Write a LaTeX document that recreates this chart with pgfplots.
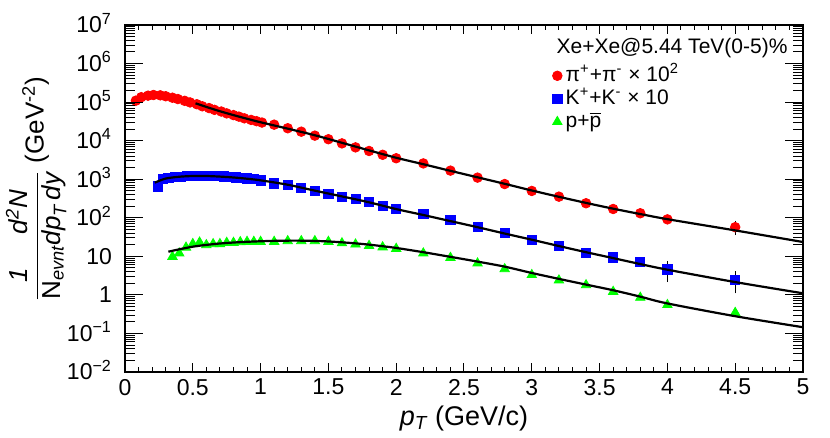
\documentclass[border=0pt]{standalone}
\usepackage{amsmath}
\usepackage{pgfplots}
\pgfplotsset{compat=1.18}
\usepackage{pgfplotstable}
\usepackage{fontspec}
\setmainfont{Liberation Sans}

\definecolor{rootred}{RGB}{255,0,0}
\definecolor{rootblue}{RGB}{0,0,255}
\definecolor{rootgreen}{RGB}{0,255,0}

\pgfplotstableread{
x y e
0.08 1.09e5 0
0.12 1.34e5 0
0.17 1.47e5 0
0.21 1.53e5 0
0.26 1.50e5 0
0.30 1.42e5 0
0.35 1.30e5 0
0.39 1.20e5 0
0.44 1.08e5 0
0.48 9.8e4 0
0.53 8.8e4 0
0.57 7.8e4 0
0.62 7.0e4 0
0.66 6.3e4 0
0.71 5.7e4 0
0.75 5.1e4 0
0.80 4.6e4 0
0.84 4.2e4 0
0.88 3.8e4 0
0.93 3.45e4 0
0.97 3.2e4 0
1.01 2.95e4 0
1.1 2.6e4 0
1.2 2.1e4 0
1.3 1.71e4 0
1.4 1.35e4 0
1.5 1.09e4 0
1.6 8.5e3 0
1.7 6.7e3 0
1.8 5.4e3 0
1.9 4.3e3 0
2.0 3.5e3 0
2.2 2.57e3 0
2.4 1.67e3 0
2.6 1.1e3 0
2.8 750 0
3.0 496 0
3.2 353 0
3.4 238 0
3.6 169 0
3.8 131 0
4.0 91 0
4.5 57 17
}\pion

\pgfplotstableread{
x y e
0.24 650 0
0.28 1000 0
0.32 1080 0
0.37 1130 0
0.41 1170 0
0.46 1200 0
0.50 1220 0
0.55 1230 0
0.59 1230 0
0.64 1220 0
0.68 1200 0
0.73 1180 0
0.77 1150 0
0.82 1120 0
0.86 1090 0
0.90 1050 0
0.95 1030 0
1.00 930 0
1.1 783 0
1.2 710 0
1.3 604 0
1.4 496 0
1.5 414 0
1.6 353 0
1.7 308 0
1.8 252 0
1.9 206 0
2.0 166 0
2.2 126 0
2.4 88 0
2.6 57 0
2.8 40 0
3.0 26.5 0
3.2 18.5 0
3.4 12.4 0
3.6 9.4 0
3.8 7.3 0
4.0 4.6 2.2
4.5 2.43 1.2
}\kaon

\pgfplotstableread{
x y
0.35 9.8
0.40 12.0
0.45 17.0
0.50 21.0
0.55 23.0
0.60 19.7
0.65 20.9
0.70 21.0
0.75 22.6
0.80 22.6
0.85 23.5
0.90 24.0
0.95 24.0
1.00 24.0
1.1 24.0
1.2 25.0
1.3 25.0
1.4 25.0
1.5 24.0
1.6 22.0
1.7 20.5
1.8 18.8
1.9 17.3
2.0 15.8
2.2 12.0
2.4 9.2
2.6 6.6
2.8 4.7
3.0 3.3
3.2 2.4
3.4 1.8
3.6 1.21
3.8 0.85
4.0 0.55
4.5 0.345
}\proton

\pgfplotstableread{
x y
0.52 9.3e4
0.6 7.5e4
0.7 5.8e4
0.8 4.6e4
0.9 3.7e4
1.0 3.0e4
1.2 2.05e4
1.4 1.38e4
1.6 8.8e3
1.8 5.6e3
2.0 3.6e3
2.2 2.45e3
2.4 1.65e3
2.6 1.12e3
2.8 760
3.0 510
3.2 350
3.4 243
3.6 172
3.8 125
4.0 92
4.5 47
5.0 23.5
}\pionfit

\pgfplotstableread{
x y
0.22 815
0.3 1040
0.4 1160
0.5 1210
0.6 1210
0.7 1170
0.8 1110
0.9 1030
1.0 935
1.2 720
1.4 505
1.6 358
1.8 252
2.0 168
2.2 118
2.4 82
2.6 57
2.8 39
3.0 27
3.2 18.5
3.4 12.8
3.6 9
3.8 6.3
4.0 4.5
4.5 2.15
5.0 1.1
}\kaonfit

\pgfplotstableread{
x y
0.32 13.2
0.4 15.2
0.5 17.8
0.6 19.8
0.7 21.5
0.8 22.8
0.9 23.8
1.0 24.6
1.1 25.2
1.2 25.5
1.3 25.5
1.4 25.1
1.5 24.3
1.6 23.1
1.7 21.7
1.8 20.1
1.9 18.3
2.0 16.5
2.2 12.8
2.4 9.7
2.6 7.3
2.8 5.4
3.0 3.7
3.2 2.6
3.4 1.85
3.6 1.32
3.8 0.9
4.0 0.6
4.5 0.28
5.0 0.145
}\protonfit

\begin{document}
\begin{tikzpicture}
\begin{axis}[
  scale only axis, width=339pt, height=173.5pt,
  xmin=0, xmax=5, ymode=log, ymin=1e-2, ymax=1e7,
  clip mode=individual,
  axis line style={line width=0.75pt},
  every tick/.style={black, line width=0.5pt},
  tick align=inside,
  tick label style={font=\fontsize{11.5}{13}\selectfont},
  xtick={0,0.5,1,1.5,2,2.5,3,3.5,4,4.5,5},
  xticklabels={0,0.5,1,1.5,2,2.5,3,3.5,4,4.5,5},
  minor x tick num=4,
  ytick=\empty,
  major tick length=4.5pt, minor tick length=2.5pt,
  xlabel={\textit{p}$_{\textit{T}}$ (GeV/c)},
  xlabel style={font=\fontsize{13.5}{16}\selectfont, at={(axis description cs:0.5,-0.153)}, anchor=base},
  legend style={draw=none, fill=none, at={(rel axis cs:0.630,0.885)}, anchor=north west,
    font=\fontsize{10.5}{12}\selectfont, inner sep=0pt, row sep=1pt,
    nodes={inner xsep=1.8pt, inner ysep=0pt, text height=8pt, text depth=2.5pt}},
  legend cell align=left,
  legend image code/.code={\draw[#1] plot coordinates {(0pt,0pt)};},
]
\addplot[only marks, mark=*, mark size=2.4pt, color=rootred, mark options={draw=rootred, fill=rootred},
  error bars/.cd, y dir=both, y explicit, error bar style={black, line width=0.5pt}, error mark options={black, mark size=1pt}]
  table[x=x, y=y, y error=e] {\pion};
\addlegendentry{π\textsuperscript{+}+π\textsuperscript{-} × 10\textsuperscript{2}}
\addplot[only marks, mark=square*, mark size=2.3pt, color=rootblue, mark options={draw=rootblue, fill=rootblue},
  error bars/.cd, y dir=both, y explicit, error bar style={black, line width=0.5pt}, error mark options={black, mark size=1pt}]
  table[x=x, y=y, y error=e] {\kaon};
\addlegendentry{K\textsuperscript{+}+K\textsuperscript{-} × 10}
\addplot[only marks, mark=triangle*, mark size=2.7pt, color=rootgreen, mark options={draw=rootgreen, fill=rootgreen}]
  table[x=x, y=y] {\proton};
\addlegendentry{p+$\overline{\text{p}}$}
\addplot[black, line width=1.1pt, smooth, forget plot] table[x=x, y=y] {\pionfit};
\addplot[black, line width=1.1pt, smooth, forget plot] table[x=x, y=y] {\kaonfit};
\addplot[black, line width=1.1pt, smooth, forget plot] table[x=x, y=y] {\protonfit};
\node[anchor=west, inner sep=0pt, font=\fontsize{10.5}{12}\selectfont] at (rel axis cs:0.636,0.934) {Xe+Xe@5.44 TeV(0-5)\%};
\end{axis}
\begin{axis}[
  scale only axis, width=339pt, height=173.5pt,
  xmin=0, xmax=5, ymode=log, ymin=1e-2, ymax=1e7,
  axis line style={line width=0.75pt},
  every tick/.style={black, line width=0.5pt},
  tick align=inside,
  tick label style={font=\fontsize{11.5}{13}\selectfont},
  xtick=\empty,
  ytick={1e-2,1e-1,1,10,100,1e3,1e4,1e5,1e6,1e7},
  yticklabels={10\textsuperscript{−2},10\textsuperscript{−1},1,10,10\textsuperscript{2},10\textsuperscript{3},10\textsuperscript{4},10\textsuperscript{5},10\textsuperscript{6},10\textsuperscript{7}},
  minor ytick={0.02,0.03,0.04,0.05,0.06,0.07,0.08,0.09,0.2,0.3,0.4,0.5,0.6,0.7,0.8,0.9,2,3,4,5,6,7,8,9,20,30,40,50,60,70,80,90,200,300,400,500,600,700,800,900,2000,3000,4000,5000,6000,7000,8000,9000,20000,30000,40000,50000,60000,70000,80000,90000,200000,300000,400000,500000,600000,700000,800000,900000,2000000,3000000,4000000,5000000,6000000,7000000,8000000,9000000},
  major tick length=9pt, minor tick length=5pt,
  yticklabel style={anchor=base east, yshift=-4pt, xshift=-3pt},
  ylabel={$\displaystyle\frac{\text{\textit{1}\hspace{1.3em}\textit{d}\textsuperscript{\textit{2}}\textit{N}}}{\text{N}_{\textit{evnt}}\textit{dp}_{\textit{T}}\,\textit{dy}}$ (GeV\textsuperscript{-2})},
  ylabel style={font=\fontsize{13}{16}\selectfont, at={(axis description cs:-0.131,0.527)}, anchor=center},
]
\end{axis}
\pgfresetboundingbox
\path (current axis.south west) ++(-62.5pt,-33pt) coordinate (bl);
\path (current axis.north east) ++(13.5pt,12.5pt) coordinate (tr);
\useasboundingbox (bl) rectangle (tr);
\end{tikzpicture}
\end{document}
